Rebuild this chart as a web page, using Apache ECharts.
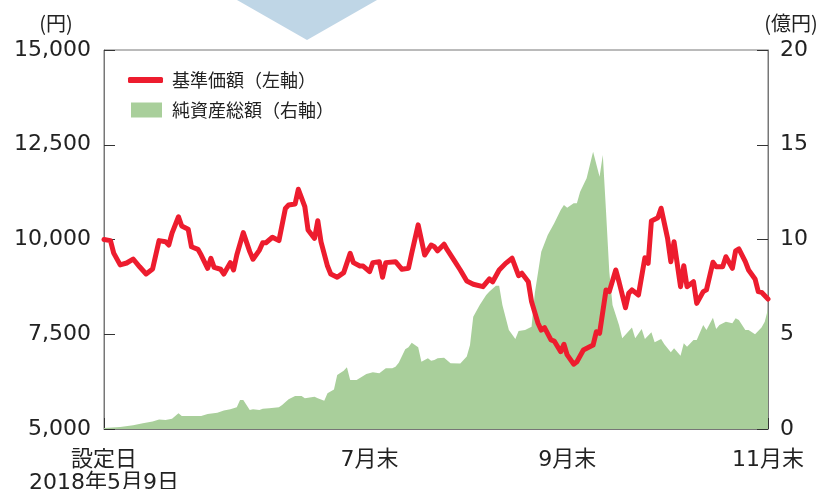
<!DOCTYPE html>
<html>
<head>
<meta charset="utf-8">
<script src="https://cdn.jsdelivr.net/npm/echarts@6/dist/echarts.min.js"></script>
<style>
html,body{margin:0;padding:0;background:#fff;}
#chart{width:824px;height:489px;}
</style>
</head>
<body>
<div id="chart"></div>
<script>
// 基準価額 (円) — dates and values
const navDates = ['2018-05-09','2018-05-11','2018-05-12','2018-05-14','2018-05-16','2018-05-18','2018-05-20','2018-05-22','2018-05-24','2018-05-26','2018-05-28','2018-05-29','2018-05-30','2018-06-01','2018-06-02','2018-06-04','2018-06-05','2018-06-07','2018-06-08','2018-06-10','2018-06-11','2018-06-12','2018-06-14','2018-06-15','2018-06-17','2018-06-18','2018-06-19','2018-06-21','2018-06-23','2018-06-24','2018-06-26','2018-06-27','2018-06-28','2018-06-30','2018-07-02','2018-07-04','2018-07-05','2018-07-07','2018-07-08','2018-07-10','2018-07-11','2018-07-13','2018-07-14','2018-07-15','2018-07-17','2018-07-18','2018-07-20','2018-07-22','2018-07-24','2018-07-25','2018-07-27','2018-07-28','2018-07-30','2018-07-31','2018-08-02','2018-08-03','2018-08-04','2018-08-07','2018-08-09','2018-08-11','2018-08-12','2018-08-14','2018-08-16','2018-08-18','2018-08-19','2018-08-20','2018-08-22','2018-08-23','2018-08-25','2018-08-27','2018-08-29','2018-08-31','2018-09-03','2018-09-05','2018-09-06','2018-09-08','2018-09-10','2018-09-12','2018-09-14','2018-09-15','2018-09-17','2018-09-18','2018-09-20','2018-09-21','2018-09-22','2018-09-24','2018-09-25','2018-09-27','2018-09-28','2018-09-29','2018-10-01','2018-10-02','2018-10-04','2018-10-07','2018-10-08','2018-10-09','2018-10-11','2018-10-12','2018-10-14','2018-10-15','2018-10-17','2018-10-18','2018-10-19','2018-10-21','2018-10-23','2018-10-24','2018-10-25','2018-10-27','2018-10-28','2018-10-30','2018-10-31','2018-11-01','2018-11-03','2018-11-04','2018-11-05','2018-11-07','2018-11-08','2018-11-10','2018-11-11','2018-11-13','2018-11-14','2018-11-16','2018-11-17','2018-11-19','2018-11-20','2018-11-21','2018-11-23','2018-11-24','2018-11-26','2018-11-27','2018-11-28','2018-11-30'];
const navValues = [10000,9970,9640,9330,9380,9485,9280,9090,9220,9970,9940,9855,10170,10600,10355,10270,9810,9740,9590,9240,9505,9265,9215,9090,9390,9195,9590,10180,9680,9480,9720,9915,9915,10060,9970,10820,10910,10935,11325,10865,10250,10030,10495,9940,9300,9090,9005,9125,9635,9390,9300,9300,9150,9390,9415,9005,9390,9415,9215,9240,9635,10385,9590,9855,9810,9700,9875,9725,9460,9195,8905,8820,8755,8960,8885,9195,9370,9505,9045,9110,8885,8360,7790,7610,7675,7350,7320,7040,7235,6955,6710,6775,7085,7215,7565,7525,8670,8625,9195,8885,8200,8580,8670,8535,9520,9370,10490,10575,10825,10030,9415,9940,8755,9310,8755,8885,8315,8625,8670,9400,9280,9280,9545,9240,9700,9750,9415,9195,8960,8625,8605,8430];

// 純資産総額 (億円) — dates and values
const aumDates = ['2018-05-09','2018-05-14','2018-05-18','2018-05-21','2018-05-24','2018-05-26','2018-05-28','2018-05-30','2018-06-01','2018-06-02','2018-06-08','2018-06-10','2018-06-13','2018-06-15','2018-06-17','2018-06-19','2018-06-20','2018-06-21','2018-06-23','2018-06-24','2018-06-26','2018-06-27','2018-06-29','2018-07-02','2018-07-03','2018-07-05','2018-07-07','2018-07-09','2018-07-10','2018-07-12','2018-07-13','2018-07-14','2018-07-16','2018-07-17','2018-07-19','2018-07-20','2018-07-22','2018-07-23','2018-07-24','2018-07-26','2018-07-28','2018-07-29','2018-07-31','2018-08-01','2018-08-02','2018-08-04','2018-08-06','2018-08-07','2018-08-08','2018-08-10','2018-08-11','2018-08-12','2018-08-14','2018-08-15','2018-08-17','2018-08-18','2018-08-19','2018-08-20','2018-08-22','2018-08-24','2018-08-27','2018-08-29','2018-08-30','2018-08-31','2018-09-02','2018-09-04','2018-09-05','2018-09-07','2018-09-08','2018-09-09','2018-09-11','2018-09-13','2018-09-14','2018-09-16','2018-09-18','2018-09-19','2018-09-21','2018-09-23','2018-09-25','2018-09-27','2018-09-28','2018-09-29','2018-10-01','2018-10-02','2018-10-03','2018-10-05','2018-10-07','2018-10-09','2018-10-10','2018-10-11','2018-10-12','2018-10-13','2018-10-15','2018-10-16','2018-10-19','2018-10-20','2018-10-22','2018-10-23','2018-10-25','2018-10-26','2018-10-28','2018-10-29','2018-10-31','2018-11-01','2018-11-03','2018-11-04','2018-11-05','2018-11-07','2018-11-08','2018-11-10','2018-11-11','2018-11-13','2018-11-14','2018-11-15','2018-11-17','2018-11-19','2018-11-20','2018-11-21','2018-11-23','2018-11-24','2018-11-26','2018-11-28','2018-11-29','2018-11-30'];
const aumValues = [0.05,0.1,0.2,0.3,0.4,0.5,0.47,0.54,0.83,0.69,0.69,0.79,0.86,0.97,1.04,1.15,1.53,1.53,1.0,1.04,1.0,1.07,1.09,1.15,1.27,1.57,1.74,1.74,1.62,1.67,1.70,1.62,1.49,1.88,2.09,2.85,3.08,3.26,2.59,2.59,2.80,2.90,2.99,2.97,2.94,3.20,3.20,3.29,3.50,4.21,4.31,4.55,4.31,3.55,3.73,3.60,3.64,3.73,3.76,3.47,3.45,3.82,4.43,5.93,6.54,7.07,7.25,7.56,7.56,6.54,5.22,4.75,5.17,5.22,5.40,7.16,9.36,10.24,10.86,11.56,11.82,11.68,11.91,11.91,12.52,13.23,14.63,13.31,14.46,11.47,8.30,6.54,5.49,4.79,5.35,4.79,5.28,4.75,5.10,4.58,4.75,4.47,4.05,4.26,3.87,4.52,4.34,4.70,4.70,5.49,5.22,5.87,5.28,5.49,5.66,5.58,5.84,5.75,5.22,5.22,5.00,5.35,5.66,6.33];

// x-axis tick positions and labels
const tickDates = ['2018-05-09','2018-07-30','2018-09-29','2018-11-30'];
const tickLabels = ['設定日\n2018年5月9日','7月末','9月末','11月末'];
const leftTicks = [5000, 7500, 10000, 12500, 15000];
const rightTicks = [0, 5, 10, 15, 20];
const navName = '基準価額（左軸）';
const aumName = '純資産総額（右軸）';

// days elapsed since the launch date (UTC-based to avoid DST issues)
const dayNum = s => { const p = s.split('-'); return Date.UTC(+p[0], +p[1] - 1, +p[2]) / 86400000; };
const day0 = dayNum(tickDates[0]);
const dayOf = s => Math.round(dayNum(s) - day0);
const tickDays = tickDates.map(dayOf);
const fmtComma = v => String(v).replace(/\B(?=(\d{3})+(?!\d))/g, ',');

const chart = echarts.init(document.getElementById('chart'));
const axisLineStyle = { color: '#777', width: 1 };
const numFont = '"DejaVu Sans", "Noto Sans CJK JP", sans-serif';
const cjkFont = '"Noto Sans CJK JP", sans-serif';

chart.setOption({
  animation: false,
  backgroundColor: '#fff',
  grid: { left: 104, right: 56, top: 50, bottom: 60, show: true, borderColor: '#777', borderWidth: 1,
          containLabel: false, outerBoundsMode: 'none' },
  graphic: [
    { type: 'polygon', shape: { points: [[237, 0], [377, 0], [307, 40]] }, style: { fill: '#bfd6e6' }, z: 0 },
    { type: 'text', style: { text: '(円)', x: 56, y: 23, textAlign: 'center', textVerticalAlign: 'middle', font: '20px "Noto Sans CJK JP"', fill: '#222' } },
    { type: 'text', style: { text: '(億円)', x: 791, y: 23, textAlign: 'center', textVerticalAlign: 'middle', font: '20px "Noto Sans CJK JP"', fill: '#222' } }
  ],
  legend: [
    { data: [navName], left: 128, top: 70, padding: 0, icon: 'roundRect', itemWidth: 35, itemHeight: 6,
      textStyle: { fontFamily: cjkFont, fontSize: 18, color: '#222', lineHeight: 20, padding: [0, 0, 0, 4] } },
    { data: [aumName], left: 131, top: 100, padding: 0, icon: 'rect', itemWidth: 31, itemHeight: 15,
      textStyle: { fontFamily: cjkFont, fontSize: 18, color: '#222', lineHeight: 20, padding: [0, 0, 0, 5] } }
  ],
  xAxis: {
    type: 'value',
    min: tickDays[0],
    max: tickDays[tickDays.length - 1],
    axisLine: { lineStyle: axisLineStyle },
    axisTick: { show: true, inside: true, length: 11, lineStyle: { color: '#333' }, customValues: tickDays },
    splitLine: { show: false },
    axisLabel: {
      customValues: tickDays,
      margin: 20,
      fontFamily: numFont,
      fontSize: 22,
      lineHeight: 23,
      color: '#222',
      align: 'center',
      formatter: function (v) {
        const i = tickDays.indexOf(Math.round(v));
        return i >= 0 ? tickLabels[i] : '';
      }
    }
  },
  yAxis: [
    {
      type: 'value', position: 'left',
      min: leftTicks[0], max: leftTicks[leftTicks.length - 1], interval: leftTicks[1] - leftTicks[0],
      axisLine: { show: true, lineStyle: axisLineStyle },
      axisTick: { show: true, inside: true, length: 11, lineStyle: { color: '#333' } },
      splitLine: { show: false },
      axisLabel: { margin: 13, fontFamily: numFont, fontSize: 22, color: '#222', formatter: v => fmtComma(v) }
    },
    {
      type: 'value', position: 'right',
      min: rightTicks[0], max: rightTicks[rightTicks.length - 1], interval: rightTicks[1] - rightTicks[0],
      axisLine: { show: true, lineStyle: axisLineStyle },
      axisTick: { show: true, inside: true, length: 11, lineStyle: { color: '#333' } },
      splitLine: { show: false },
      axisLabel: { margin: 12, fontFamily: numFont, fontSize: 22, color: '#222' }
    }
  ],
  series: [
    {
      name: aumName, type: 'line', yAxisIndex: 1,
      data: aumDates.map((d, i) => [dayOf(d), aumValues[i]]),
      showSymbol: false, symbol: 'none',
      lineStyle: { width: 0, color: '#a9cf9b' },
      itemStyle: { color: '#a9cf9b' },
      areaStyle: { color: '#a9cf9b', opacity: 1 },
      z: 2
    },
    {
      name: navName, type: 'line', yAxisIndex: 0,
      data: navDates.map((d, i) => [dayOf(d), navValues[i]]),
      showSymbol: false, symbol: 'none',
      lineStyle: { width: 5, color: '#ed1c2e', join: 'round', cap: 'round' },
      itemStyle: { color: '#ed1c2e' },
      z: 3
    }
  ]
});
</script>
</body>
</html>
